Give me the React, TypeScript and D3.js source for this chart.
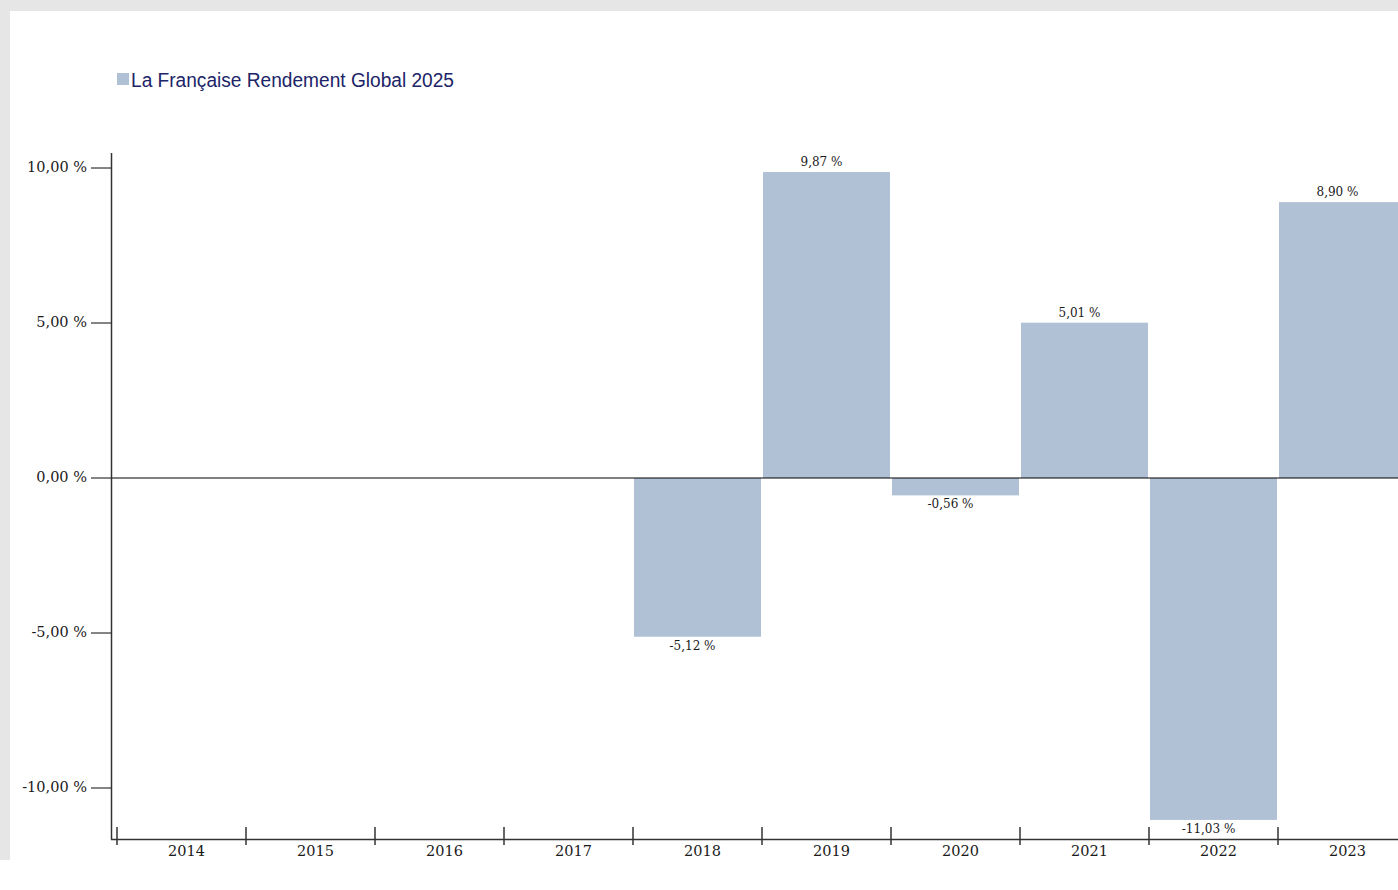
import React from "react";
import * as d3 from "d3";

const years = ["2014", "2015", "2016", "2017", "2018", "2019", "2020", "2021", "2022", "2023"];
const values: (number | null)[] = [null, null, null, null, -5.12, 9.87, -0.56, 5.01, -11.03, 8.9];
const yTicks = [10, 5, 0, -5, -10];
const seriesName = "La Française Rendement Global 2025";

const W = 1398, H = 890;
const fmt = (v: number) => v.toFixed(2).replace(".", ",") + " %";

export default function App() {
  const y = d3.scaleLinear().domain([-11.645, 10.484]).range([839, 153]);
  const x = d3.scaleBand().domain(years).range([117, 117 + 129 * years.length]).paddingInner(0).paddingOuter(0);
  const serif = "'DejaVu Serif', 'Liberation Serif', serif";
  const bw = x.bandwidth();
  return (
    <svg width={W} height={H} style={{ position: "absolute", left: 0, top: 0 }}>
      <rect x={0} y={0} width={W} height={H} fill="#e6e6e6" />
      <rect x={10} y={11} width={W - 10} height={H - 11} fill="#ffffff" />
      <rect x={0} y={860} width={10} height={30} fill="#ffffff" />
      {/* legend */}
      <rect x={117} y={73} width={12} height={12} fill="#b0c1d6" />
      <text x={131} y={87} fontFamily="'Liberation Sans', Arial, sans-serif" fontSize={20} fill="#202468" textLength={323} lengthAdjust="spacingAndGlyphs">{seriesName}</text>
      {/* bars */}
      {years.map((yr, i) => {
        const v = values[i];
        if (v === null) return null;
        const x0 = (x(yr) as number) + 1;
        const top = y(Math.max(0, v));
        const bot = y(Math.min(0, v));
        return (
          <g key={yr}>
            <rect x={x0} y={top} width={bw - 2} height={bot - top} fill="#b0c1d6" />
            <text x={x0 + bw / 2 - 6} y={v >= 0 ? top - 6 : bot + 13} textAnchor="middle" fontFamily={serif} fontSize={12} fill="#1a1a1a">{fmt(v)}</text>
          </g>
        );
      })}
      {/* zero line */}
      <line x1={111} x2={W} y1={y(0)} y2={y(0)} stroke="#000" strokeWidth={1} />
      {/* y axis */}
      <line x1={111.5} x2={111.5} y1={153} y2={839.5} stroke="#333" strokeWidth={1.5} />
      {yTicks.map(t => (
        <g key={t}>
          <line x1={91} x2={111} y1={y(t)} y2={y(t)} stroke="#333" strokeWidth={1.2} />
          <text x={87} y={y(t) + 4} textAnchor="end" fontFamily={serif} fontSize={14.5} fill="#1a1a1a">{fmt(t)}</text>
        </g>
      ))}
      {/* x axis */}
      <line x1={111} x2={W} y1={839.5} y2={839.5} stroke="#333" strokeWidth={1.5} />
      {years.map(yr => (
        <g key={yr}>
          <line x1={(x(yr) as number)} x2={(x(yr) as number)} y1={827} y2={845} stroke="#333" strokeWidth={1.5} />
          <text x={(x(yr) as number) + bw / 2 + 5} y={856} textAnchor="middle" fontFamily={serif} fontSize={14.5} fill="#1a1a1a">{yr}</text>
        </g>
      ))}
    </svg>
  );
}
